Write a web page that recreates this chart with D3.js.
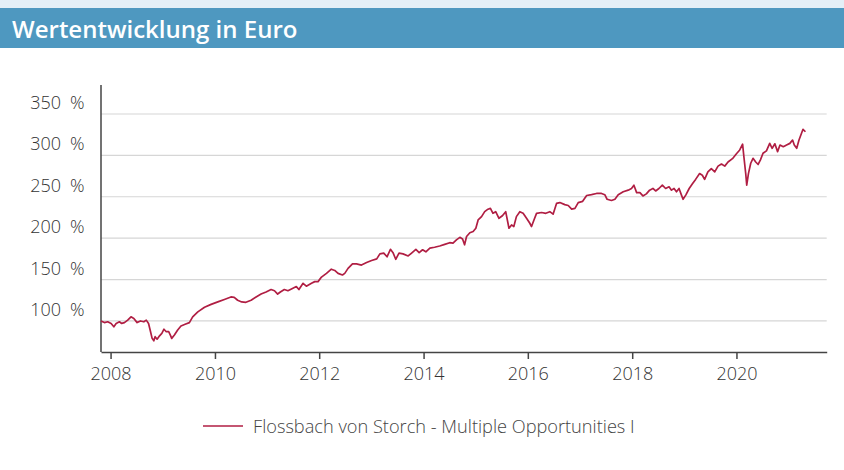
<!DOCTYPE html>
<html lang="de">
<head>
<meta charset="utf-8">
<title>Wertentwicklung in Euro</title>
<script src="https://cdn.jsdelivr.net/npm/d3@7/dist/d3.min.js"></script>
<style>
  html, body { margin: 0; padding: 0; background: #fff; }
  svg { display: block; font-family: "Open Sans", "Noto Sans", sans-serif; }
</style>
</head>
<body>
<svg id="chart" width="844" height="470"></svg>
<script>
// Fund performance, indexed (start = 100 %)
const title = "Wertentwicklung in Euro";
const seriesName = "Flossbach von Storch - Multiple Opportunities I";

const dates = [
  "2007-10-26","2007-11-19","2007-12-12","2008-01-05","2008-01-24","2008-02-09","2008-03-03","2008-03-19",
  "2008-04-07","2008-04-30","2008-05-23","2008-06-12","2008-07-05","2008-07-28","2008-08-21","2008-09-07",
  "2008-09-23","2008-10-07","2008-10-18","2008-10-30","2008-11-08","2008-11-22","2008-12-09","2008-12-25",
  "2009-01-09","2009-01-25","2009-02-11","2009-02-25","2009-03-04","2009-03-23","2009-04-15","2009-05-08",
  "2009-06-06","2009-07-06","2009-07-29","2009-09-03","2009-10-20","2009-12-05","2010-01-21","2010-03-08",
  "2010-04-23","2010-05-16","2010-06-09","2010-07-07","2010-08-06","2010-09-11","2010-10-16","2010-11-20",
  "2010-12-25","2011-01-29","2011-02-22","2011-03-16","2011-04-04","2011-05-02","2011-05-27","2011-07-01",
  "2011-07-25","2011-08-12","2011-09-10","2011-10-03","2011-11-08","2011-12-01","2011-12-24","2012-01-17",
  "2012-02-21","2012-03-26","2012-04-19","2012-05-12","2012-06-12","2012-06-28","2012-07-21","2012-08-21",
  "2012-09-18","2012-10-23","2012-11-28","2013-01-02","2013-02-07","2013-03-01","2013-03-28","2013-04-20",
  "2013-05-14","2013-06-01","2013-06-20","2013-07-13","2013-08-10","2013-09-15","2013-10-09","2013-11-08",
  "2013-12-01","2013-12-25","2014-01-17","2014-02-14","2014-03-19","2014-04-24","2014-05-29","2014-07-03",
  "2014-07-26","2014-08-19","2014-09-12","2014-10-01","2014-10-15","2014-10-29","2014-11-21","2014-12-14",
  "2015-01-02","2015-01-18","2015-02-11","2015-03-05","2015-03-28","2015-04-14","2015-05-02","2015-05-21",
  "2015-06-13","2015-07-07","2015-07-30","2015-08-22","2015-09-09","2015-09-25","2015-10-13","2015-11-06",
  "2015-11-29","2015-12-23","2016-01-15","2016-01-27","2016-02-13","2016-03-02","2016-04-06","2016-05-06",
  "2016-06-03","2016-06-26","2016-07-20","2016-08-12","2016-09-16","2016-10-10","2016-11-03","2016-11-26",
  "2016-12-19","2017-01-19","2017-02-16","2017-03-22","2017-04-26","2017-05-31","2017-06-23","2017-07-09",
  "2017-08-09","2017-09-02","2017-09-25","2017-10-30","2017-12-04","2017-12-27","2018-01-13","2018-02-01",
  "2018-02-24","2018-03-17","2018-04-10","2018-05-03","2018-05-26","2018-06-14","2018-07-07","2018-07-31",
  "2018-08-23","2018-09-16","2018-10-03","2018-10-21","2018-11-07","2018-11-25","2018-12-12","2018-12-23",
  "2019-01-11","2019-02-04","2019-02-28","2019-03-21","2019-04-18","2019-05-07","2019-05-23","2019-06-15",
  "2019-07-09","2019-08-02","2019-08-25","2019-09-18","2019-10-11","2019-11-03","2019-12-04","2020-01-01",
  "2020-01-24","2020-02-13","2020-02-22","2020-03-06","2020-03-13","2020-03-25","2020-04-10","2020-04-26",
  "2020-05-15","2020-06-01","2020-06-17","2020-07-05","2020-07-29","2020-08-21","2020-09-07","2020-09-26",
  "2020-10-15","2020-11-01","2020-11-24","2020-12-17","2021-01-09","2021-01-28","2021-02-09","2021-02-26",
  "2021-03-14","2021-03-31","2021-04-11","2021-04-28"
];

const values = [
  100, 98, 99, 97, 93, 97, 99, 97,
  98, 101, 105, 103, 98, 100, 99, 101,
  97, 87, 79, 76, 81, 78, 82, 85,
  90, 87, 87, 82, 79, 83, 89, 94,
  96, 98, 105, 111, 116.5, 120, 123, 126,
  129, 128.5, 125, 123, 122.5, 125, 129, 132.5,
  135, 138, 136.5, 132.5, 135, 138, 136.5, 139.5,
  141.5, 138, 145.5, 142, 145.5, 147.5, 147.5, 153,
  157.5, 162.5, 161, 157.5, 155.5, 157.5, 163.5, 169,
  169, 167.5, 170.5, 173, 175, 181, 182, 177.5,
  186.5, 182.5, 174.5, 182, 181, 178.5, 182, 186.5,
  182.5, 186, 183.5, 188, 189, 190.5, 192.5, 194.5,
  194, 198, 201, 199, 192, 202, 206.5, 208,
  212, 222, 226, 232, 235, 236, 230, 232,
  224, 227, 232, 212, 216, 214, 226, 232,
  230, 224, 218, 214, 222, 230, 231, 230,
  232, 229, 242, 243, 240.5, 239.5, 235, 236,
  243, 244.5, 251.5, 252.5, 254, 254, 252.5, 247,
  245.5, 247, 252.5, 256, 258, 260, 264, 255,
  255, 251, 253.5, 258, 260, 257, 260, 264,
  260, 262, 258, 260, 256, 260, 252, 247,
  252, 260, 266, 271, 278, 276, 271, 280,
  284, 280, 287, 289.5, 287, 292, 296, 302,
  306.5, 313.5, 298.5, 278, 264, 278, 290.5, 296.5,
  292, 289, 294.5, 302.5, 305.5, 314.5, 308.5, 314,
  304.5, 312.5, 310.5, 312.5, 314.5, 318.5, 312.5, 308.5,
  318.5, 326.5, 331.5, 328.5
];

const yTicks = [100, 150, 200, 250, 300, 350];
const xTickYears = [2008, 2010, 2012, 2014, 2016, 2018, 2020];
const xDomain = ["2007-10-26", "2021-09-24"];
const yDomain = [62.5, 385];

const parse = d3.timeParse("%Y-%m-%d");
const data = dates.map((d, i) => ({ date: parse(d), value: values[i] }));

const svg = d3.select("#chart");
const W = 844;

// Header band
svg.append("rect").attr("x", 0).attr("y", 0).attr("width", W).attr("height", 8).attr("fill", "#e3eff7");
svg.append("rect").attr("x", 0).attr("y", 8).attr("width", W).attr("height", 40).attr("fill", "#4e98c0");
svg.append("text")
  .attr("x", 12).attr("y", 38)
  .attr("fill", "#fff")
  .attr("font-size", 24).attr("font-weight", 600)
  .text(title);

// Plot area
const plot = { left: 101, right: 826.7, top: 85, bottom: 352 };

const x = d3.scaleTime().domain(xDomain.map(parse)).range([plot.left, plot.right]);
const y = d3.scaleLinear().domain(yDomain).range([plot.bottom, plot.top]);

// Horizontal grid lines
svg.append("g")
  .selectAll("line")
  .data(yTicks)
  .join("line")
  .attr("x1", plot.left).attr("x2", plot.right)
  .attr("y1", d => y(d)).attr("y2", d => y(d))
  .attr("stroke", "#d6d6d6").attr("stroke-width", 1.2);

// Y labels: value and percent sign set apart, sitting above each grid line
const yLab = svg.append("g").attr("fill", "#333").attr("font-size", 18).attr("font-weight", 300);
yLab.selectAll("text.num")
  .data(yTicks)
  .join("text")
  .attr("class", "num")
  .attr("x", 61).attr("y", d => y(d) - 5)
  .attr("text-anchor", "end")
  .text(d => d);
yLab.selectAll("text.pct")
  .data(yTicks)
  .join("text")
  .attr("class", "pct")
  .attr("x", 70).attr("y", d => y(d) - 5)
  .text("%");

// Y axis line
svg.append("line")
  .attr("x1", plot.left).attr("x2", plot.left).attr("y1", plot.top).attr("y2", plot.bottom)
  .attr("stroke", "#444").attr("stroke-width", 1.5);

// X axis
const xAxis = d3.axisBottom(x)
  .tickValues(xTickYears.map(yr => new Date(yr, 0, 1)))
  .tickFormat(d3.timeFormat("%Y"))
  .tickSizeInner(7).tickSizeOuter(0).tickPadding(8);

const gx = svg.append("g").attr("transform", `translate(0,${plot.bottom})`).call(xAxis);
gx.select(".domain").attr("stroke", "#444").attr("stroke-width", 1.5);
gx.selectAll(".tick line").attr("stroke", "#444").attr("stroke-width", 1.5);
gx.selectAll(".tick text")
  .attr("fill", "#333").attr("font-size", 18).attr("font-weight", 300)
  .attr("font-family", "\"Open Sans\", \"Noto Sans\", sans-serif");

// Series line
const line = d3.line().x(d => x(d.date)).y(d => y(d.value));
svg.append("path")
  .datum(data)
  .attr("fill", "none")
  .attr("stroke", "#b01e43")
  .attr("stroke-width", 1.7)
  .attr("stroke-linejoin", "round")
  .attr("d", line);

// Legend
const lg = svg.append("g");
lg.append("line")
  .attr("x1", 203).attr("x2", 243).attr("y1", 426).attr("y2", 426)
  .attr("stroke", "#b01e43").attr("stroke-width", 1.6);
lg.append("text")
  .attr("x", 253).attr("y", 433)
  .attr("fill", "#444").attr("font-size", 18.2).attr("font-weight", 300)
  .text(seriesName);
</script>
</body>
</html>
